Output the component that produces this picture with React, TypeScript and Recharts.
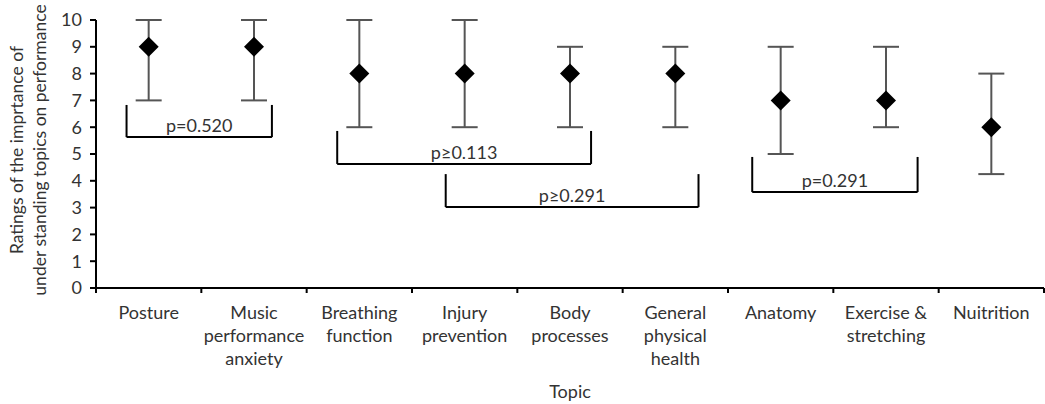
import React from 'react'
import { ComposedChart, ErrorBar, ReferenceLine, Scatter, XAxis, YAxis } from 'recharts'

const TOPICS = ['Posture', 'Music performance anxiety', 'Breathing function', 'Injury prevention', 'Body processes', 'General physical health', 'Anatomy', 'Exercise & stretching', 'Nuitrition']
const TICK_LINES = [['Posture'], ['Music', 'performance', 'anxiety'], ['Breathing', 'function'], ['Injury', 'prevention'], ['Body', 'processes'], ['General', 'physical', 'health'], ['Anatomy'], ['Exercise &', 'stretching'], ['Nuitrition']]
const MEDIAN = [9, 9, 8, 8, 8, 8, 7, 7, 6]
const LOW = [7, 7, 6, 6, 6, 6, 5, 6, 4.25]
const HIGH = [10, 10, 10, 10, 9, 9, 9, 9, 8]
const Y_TICKS = [0, 1, 2, 3, 4, 5, 6, 7, 8, 9, 10]
// boundaries get a tick mark, centres get the topic name
const X_TICKS = [0, 0.5, 1, 1.5, 2, 2.5, 3, 3.5, 4, 4.5, 5, 5.5, 6, 6.5, 7, 7.5, 8, 8.5, 9]

// significance brackets (x in topic units, y in rating units)
const BRACKET_LABELS = ['p=0.520', 'p≥0.113', 'p≥0.291', 'p=0.291']
const BRACKET_FROM = [0.29, 2.29, 3.32, 6.23]
const BRACKET_TO = [1.67, 4.7, 5.72, 7.8]
const BRACKET_TOP = [6.83, 5.86, 4.25, 4.89]
const BRACKET_BOTTOM = [5.63, 4.63, 3.02, 3.58]

const FONT = 'Lato, "Open Sans", sans-serif'
const TEXT = '#333'

const data = TOPICS.map((topic, i) => ({
  topic,
  x: i + 0.5,
  y: MEDIAN[i],
  err: [MEDIAN[i] - LOW[i], HIGH[i] - MEDIAN[i]],
}))

function Diamond(props: any) {
  const { cx, cy } = props
  const r = 10
  return <polygon points={`${cx},${cy - r} ${cx + r},${cy} ${cx},${cy + r} ${cx - r},${cy}`} fill="#000" />
}

function TopicTick(props: any) {
  const { x, y, payload } = props
  const v = payload.value
  if (Number.isInteger(v)) {
    return <line x1={x} x2={x} y1={y} y2={y + 5} stroke="#000" strokeWidth={2} />
  }
  const lines = TICK_LINES[Math.round(v - 0.5)] ?? []
  return (
    <text x={x} y={y + 31} textAnchor="middle" fill={TEXT} fontSize={18} fontFamily={FONT}>
      {lines.map((l, k) => (
        <tspan key={k} x={x} dy={k === 0 ? 0 : 23}>{l}</tspan>
      ))}
    </text>
  )
}

function YLabel(props: any) {
  const vb = props.viewBox ?? { x: 0, y: 20, height: 268 }
  const cy = vb.y + vb.height / 2 - 4
  return (
    <g fill={TEXT} fontSize={17.5} fontFamily={FONT}>
      <text x={vb.x + 23} y={cy} textAnchor="middle" transform={`rotate(-90 ${vb.x + 23} ${cy})`}>Ratings of the imprtance of</text>
      <text x={vb.x + 46} y={cy} textAnchor="middle" transform={`rotate(-90 ${vb.x + 46} ${cy})`}>under standing topics on performance</text>
    </g>
  )
}

export default function App() {
  return (
    <div style={{ position: 'absolute', left: 0, top: 0, background: '#fff' }}>
      <ComposedChart width={1045} height={404} data={data} margin={{ top: 20, right: 1, left: 0, bottom: 0 }}>
        <XAxis
          dataKey="x"
          type="number"
          domain={[0, 9]}
          allowDataOverflow
          ticks={X_TICKS}
          interval={0}
          tick={<TopicTick />}
          tickSize={0}
          tickMargin={0}
          tickLine={false}
          axisLine={{ stroke: '#000', strokeWidth: 2 }}
          height={116}
          label={{ value: 'Topic', position: 'insideBottom', offset: 6, fill: TEXT, fontSize: 18, fontFamily: FONT }}
        />
        <YAxis
          type="number"
          domain={[0, 10]}
          ticks={Y_TICKS}
          width={96}
          tickSize={6}
          tickMargin={8}
          interval={0}
          axisLine={{ stroke: '#000', strokeWidth: 2 }}
          tickLine={{ stroke: '#000', strokeWidth: 2 }}
          tick={{ fill: TEXT, fontSize: 18, fontFamily: FONT }}
          label={<YLabel />}
        />
        {BRACKET_LABELS.map((lab, i) => (
          <ReferenceLine
            key={`b${i}`}
            segment={[{ x: BRACKET_FROM[i], y: BRACKET_BOTTOM[i] }, { x: BRACKET_TO[i], y: BRACKET_BOTTOM[i] }]}
            stroke="#000"
            strokeWidth={2}
            ifOverflow="visible"
            label={{ value: lab, position: 'top', offset: 5, fill: TEXT, fontSize: 18, fontFamily: FONT }}
          />
        ))}
        {BRACKET_LABELS.map((_, i) => (
          <ReferenceLine
            key={`l${i}`}
            segment={[{ x: BRACKET_FROM[i], y: BRACKET_BOTTOM[i] }, { x: BRACKET_FROM[i], y: BRACKET_TOP[i] }]}
            stroke="#000"
            strokeWidth={2}
            ifOverflow="visible"
          />
        ))}
        {BRACKET_LABELS.map((_, i) => (
          <ReferenceLine
            key={`r${i}`}
            segment={[{ x: BRACKET_TO[i], y: BRACKET_BOTTOM[i] }, { x: BRACKET_TO[i], y: BRACKET_TOP[i] }]}
            stroke="#000"
            strokeWidth={2}
            ifOverflow="visible"
          />
        ))}
        <Scatter dataKey="y" shape={<Diamond />} isAnimationActive={false}>
          <ErrorBar dataKey="err" direction="y" width={13} stroke="#555" strokeWidth={2} />
        </Scatter>
      </ComposedChart>
    </div>
  )
}
